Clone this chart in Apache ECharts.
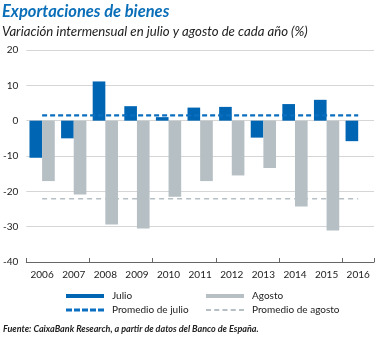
<!DOCTYPE html>
<html>
<head>
<meta charset="utf-8">
<script src="https://cdn.jsdelivr.net/npm/echarts@6/dist/echarts.min.js"></script>
<style>
html,body{margin:0;padding:0;background:#fff;}
#chart{width:376px;height:338px;}
</style>
</head>
<body>
<div id="chart"></div>
<script>
var categories = ['2006','2007','2008','2009','2010','2011','2012','2013','2014','2015','2016'];
var julio = [-10.5, -5.0, 11.1, 4.1, 1.0, 3.7, 3.9, -4.8, 4.7, 5.9, -5.8];
var agosto = [-17.1, -20.9, -29.4, -30.5, -21.5, -17.1, -15.5, -13.4, -24.3, -31.1, null];
var promedioJulio = [1.5, 1.5, 1.5, 1.5, 1.5, 1.5, 1.5, 1.5, 1.5, 1.5, 1.5];
var promedioAgosto = [-22.1, -22.1, -22.1, -22.1, -22.1, -22.1, -22.1, -22.1, -22.1, -22.1, -22.1];
var yTicks = [-40, -30, -20, -10, 0, 10, 20];

var FONT = 'Lato';
var BLUE = '#0066b3';
var GREY = '#b5bfc4';
var dashBlue = 'path://M0,0h6v3h-6z M8,0h6v3h-6z M16,0h6v3h-6z M24,0h6v3h-6z M32,0h6v3h-6z';
var dashGrey = 'path://M0,0h5v2h-5z M8.25,0h5v2h-5z M16.5,0h5v2h-5z M24.75,0h5v2h-5z M33,0h5v2h-5z';

function leg(name, icon, left, top, w, h) {
  return {
    data: [{name: name, icon: icon}],
    left: left, top: top, itemWidth: w, itemHeight: h, itemGap: 0,
    padding: 0,
    textStyle: {fontFamily: FONT, fontSize: 10, color: '#222', padding: [0, 0, 0, 3]},
    selectedMode: false
  };
}

var chart = echarts.init(document.getElementById('chart'), null, {renderer: 'canvas'});
chart.setOption({
  animation: false,
  backgroundColor: '#fff',
  title: [
    {text: 'Exportaciones de bienes', left: 2, top: 3, padding: 0,
     textStyle: {fontFamily: FONT, fontSize: 16.5, fontWeight: 'bold', fontStyle: 'italic', color: '#0a6fb8'}},
    {text: 'Variación intermensual en julio y agosto de cada año (%)', left: 2, top: 25, padding: 0,
     textStyle: {fontFamily: FONT, fontSize: 13.2, fontWeight: 'normal', fontStyle: 'italic', color: '#222'}},
    {text: '{b|Fuente:}{i|CaixaBank Research, a partir de datos del Banco de España.}', left: 3, top: 324, padding: 0,
     textStyle: {rich: {
       b: {fontFamily: FONT, fontSize: 9, fontWeight: 'bold', fontStyle: 'italic', color: '#222', lineHeight: 11, padding: [0, 2, 0, 0]},
       i: {fontFamily: FONT, fontSize: 9, fontStyle: 'italic', color: '#222', lineHeight: 11}
     }}}
  ],
  legend: [
    leg('Julio', 'rect', 66, 291, 38, 4),
    leg('Agosto', 'rect', 206, 291, 38, 4),
    leg('Promedio de julio', dashBlue, 66, 305, 38, 3),
    leg('Promedio de agosto', dashGrey, 206, 305, 38, 2)
  ],
  grid: {left: 24, right: 2, top: 50, bottom: 76, containLabel: false},
  xAxis: [
    {type: 'category', data: categories, position: 'bottom',
     axisLine: {show: false}, axisTick: {show: false},
     axisLabel: {fontFamily: FONT, fontSize: 10, color: '#222', margin: 8}},
    {type: 'category', data: categories, position: 'bottom',
     axisLine: {show: true, onZero: true, lineStyle: {color: '#666', width: 1}},
     axisTick: {show: true, inside: true, length: 4, lineStyle: {color: '#666'}},
     axisLabel: {show: false}}
  ],
  yAxis: {
    type: 'value', min: yTicks[0], max: yTicks[yTicks.length - 1], interval: 10,
    axisLine: {show: false}, axisTick: {show: false},
    axisLabel: {fontFamily: FONT, fontSize: 10, color: '#222', margin: 8},
    splitLine: {lineStyle: {color: '#d6d6d6', width: 1}}
  },
  series: [
    {name: 'Julio', type: 'bar', data: julio, xAxisIndex: 0, barWidth: '40%', barGap: '0%',
     itemStyle: {color: BLUE}},
    {name: 'Agosto', type: 'bar', data: agosto, xAxisIndex: 0, barWidth: '40%', barGap: '0%',
     itemStyle: {color: GREY}},
    {name: 'Promedio de julio', type: 'line', data: promedioJulio, xAxisIndex: 0,
     symbol: 'none', itemStyle: {color: '#0a6fc0'},
     lineStyle: {color: '#0a6fc0', width: 2.2, type: [5, 3]}, z: 5},
    {name: 'Promedio de agosto', type: 'line', data: promedioAgosto, xAxisIndex: 0,
     symbol: 'none', itemStyle: {color: GREY},
     lineStyle: {color: GREY, width: 1.6, type: [5, 4]}, z: 5}
  ]
});
</script>
</body>
</html>
